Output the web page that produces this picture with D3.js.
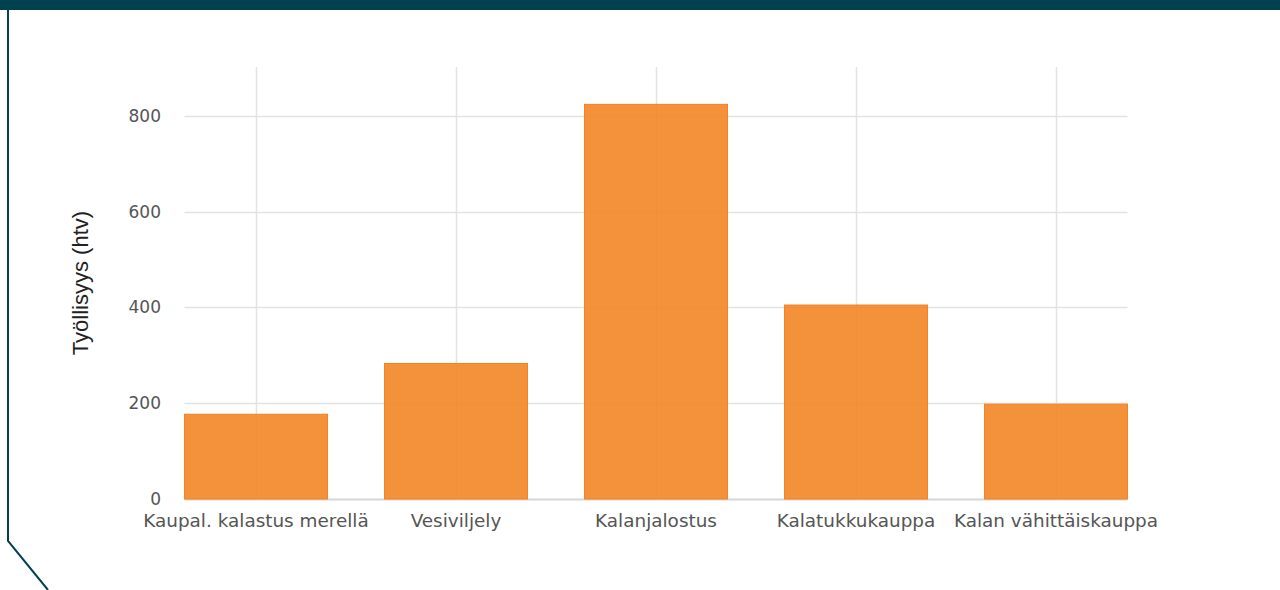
<!DOCTYPE html>
<html>
<head>
<meta charset="utf-8">
<script src="https://cdn.jsdelivr.net/npm/d3@7"></script>
<style>
  body { margin: 0; background: #fff; }
  svg { display: block; }
</style>
</head>
<body>
<div id="chart"></div>
<script>
// data
var categories = ["Kaupal. kalastus merellä", "Vesiviljely", "Kalanjalostus", "Kalatukkukauppa", "Kalan vähittäiskauppa"];
var values = [177, 283, 824, 405, 198];
var yTicks = [0, 200, 400, 600, 800];
var yTitle = "Työllisyys (htv)";

createGraph();

function createGraph() {
    var width = 1280, height = 590;

    var svg = d3.select("#chart").append("svg")
        .attr("width", width)
        .attr("height", height);

    // frame: top band, left edge and cut corner
    svg.append("rect").attr("x", 0).attr("y", 0).attr("width", width).attr("height", 10).attr("fill", "#00414f");
    svg.append("path")
        .attr("d", "M8,10 L8,541 L48,590")
        .attr("fill", "none")
        .attr("stroke", "#00414f")
        .attr("stroke-width", 2);

    // scales
    var x = d3.scaleBand()
        .domain(categories)
        .range([156, 1156])
        .paddingInner(0.285)
        .paddingOuter(0.1425);
    var y = d3.scaleLinear().domain([0, 902]).range([499, 67]);

    var left = x(categories[0]);
    var right = x(categories[categories.length - 1]) + x.bandwidth();

    // grid
    svg.append("g").selectAll("line")
        .data(yTicks)
        .enter().append("line")
        .attr("x1", left).attr("x2", right)
        .attr("y1", function (d) { return Math.round(y(d)) + 0.5; })
        .attr("y2", function (d) { return Math.round(y(d)) + 0.5; })
        .attr("stroke", function (d) { return d === 0 ? "#d6d6d6" : "#e3e3e3"; })
        .attr("stroke-width", function (d) { return d === 0 ? 2 : 1.5; });

    svg.append("g").selectAll("line")
        .data(categories)
        .enter().append("line")
        .attr("x1", function (d) { return Math.round(x(d) + x.bandwidth() / 2) + 0.5; })
        .attr("x2", function (d) { return Math.round(x(d) + x.bandwidth() / 2) + 0.5; })
        .attr("y1", y.range()[1]).attr("y2", y(0))
        .attr("stroke", "#e3e3e3")
        .attr("stroke-width", 1.5);

    // bars
    svg.append("g").selectAll("rect")
        .data(values)
        .enter().append("rect")
        .attr("x", function (d, i) { return x(categories[i]); })
        .attr("y", function (d) { return y(d); })
        .attr("width", x.bandwidth())
        .attr("height", function (d) { return y(0) - y(d); })
        .attr("fill", "#f38220")
        .attr("fill-opacity", 0.88)
        .attr("stroke", "#f38220")
        .attr("stroke-width", 1);

    // y tick labels
    svg.append("g").selectAll("text")
        .data(yTicks)
        .enter().append("text")
        .attr("x", 161)
        .attr("y", function (d) { return y(d); })
        .attr("dy", "0.35em")
        .attr("text-anchor", "end")
        .style("font", "17px 'DejaVu Sans', sans-serif")
        .style("fill", "#555")
        .text(function (d) { return d; });

    // x tick labels
    svg.append("g").selectAll("text")
        .data(categories)
        .enter().append("text")
        .attr("x", function (d) { return x(d) + x.bandwidth() / 2; })
        .attr("y", 527)
        .attr("text-anchor", "middle")
        .style("font", "18.4px 'DejaVu Sans', sans-serif")
        .style("fill", "#555")
        .text(function (d) { return d; });

    // y title
    svg.append("text")
        .attr("transform", "translate(88,283) rotate(-90)")
        .attr("text-anchor", "middle")
        .style("font", "22px 'Liberation Sans', Arial, sans-serif")
        .style("fill", "#222")
        .text(yTitle);
}
</script>
</body>
</html>
